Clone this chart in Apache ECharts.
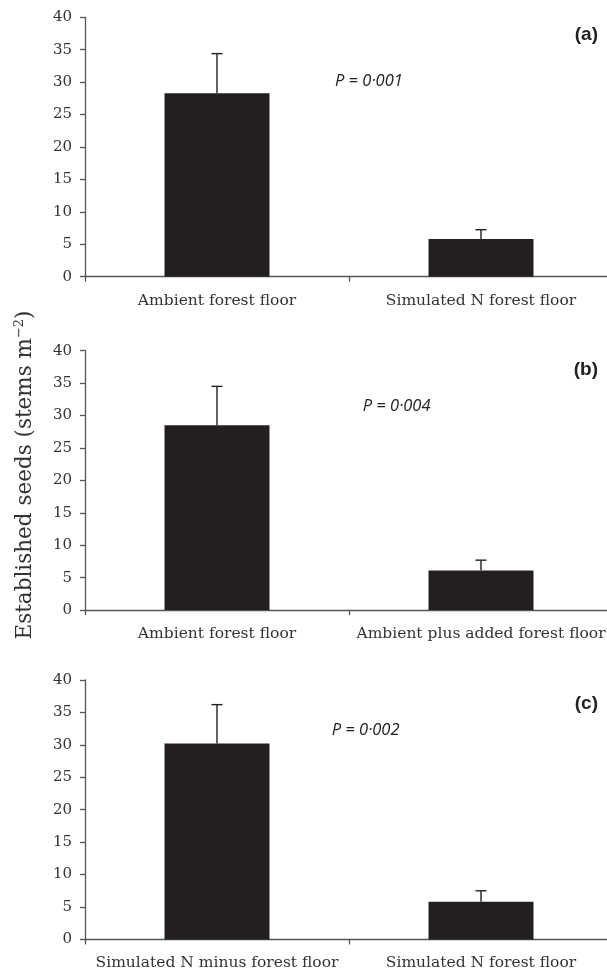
<!DOCTYPE html>
<html>
<head>
<meta charset="utf-8">
<script src="https://cdn.jsdelivr.net/npm/echarts@6/dist/echarts.min.js"></script>
<style>
html,body{margin:0;padding:0;background:#fff;overflow:hidden;width:607px;height:968px;}
#chart{width:613px;height:968px;}
</style>
</head>
<body>
<div id="chart"></div>
<script>
// ---- data ----
const catsA = ['Ambient forest floor', 'Simulated N forest floor'];
const valsA = [28.3, 5.8];
const seA = [6.1, 1.45];

const catsB = ['Ambient forest floor', 'Ambient plus added forest floor'];
const valsB = [28.5, 6.1];
const seB = [6.0, 1.6];

const catsC = ['Simulated N minus forest floor', 'Simulated N forest floor'];
const valsC = [30.2, 5.8];
const seC = [6.0, 1.7];

const yTicks = [0, 5, 10, 15, 20, 25, 30, 35, 40];
const panelLabels = ['(a)', '(b)', '(c)'];
const pLabels = ['P = 0·001', 'P = 0·004', 'P = 0·002'];
const yTitle = 'Established seeds (stems m';
const yTitleSup = '−2';

// ---- layout / style ----
const serif = 'DejaVu Serif';
const axisColor = '#555';
const textColor = '#333';
const barColor = '#231f20';
const gridTops = [17.3, 350.7, 680];
const gridH = 259.4;
const pPos = [[335, 81], [362.7, 406], [331.7, 730.7]];
const panelY = [35, 370, 704];

const panels = [
  {cats: catsA, vals: valsA, se: seA},
  {cats: catsB, vals: valsB, se: seB},
  {cats: catsC, vals: valsC, se: seC}
];

const chart = echarts.init(document.getElementById('chart'), null, {renderer: 'canvas', width: 613, height: 968});

const grid = [], xAxis = [], yAxis = [], series = [];
panels.forEach((p, i) => {
  grid.push({left: 85, right: 0, top: gridTops[i], height: gridH, containLabel: false, outerBoundsMode: 'none'});
  xAxis.push({
    type: 'category', gridIndex: i, data: p.cats,
    axisLine: {show: true, lineStyle: {color: axisColor, width: 1.3}},
    axisTick: {show: true, length: 5, lineStyle: {color: axisColor, width: 1.3}},
    axisLabel: {color: textColor, fontFamily: serif, fontSize: 15.5, margin: 16, interval: 0},
    splitLine: {show: false}
  });
  yAxis.push({
    type: 'value', gridIndex: i, min: yTicks[0], max: yTicks[yTicks.length - 1], interval: yTicks[1] - yTicks[0],
    axisLine: {show: true, lineStyle: {color: axisColor, width: 1.3}},
    axisTick: {show: true, length: 5, lineStyle: {color: axisColor, width: 1.3}},
    axisLabel: {color: textColor, fontFamily: serif, fontSize: 15, margin: 13},
    splitLine: {show: false}
  });
  series.push({
    type: 'bar', xAxisIndex: i, yAxisIndex: i, data: p.vals, barWidth: 105,
    itemStyle: {color: barColor}, silent: true, animation: false
  });
  series.push({
    type: 'custom', xAxisIndex: i, yAxisIndex: i,
    data: p.vals.map((v, k) => [k, v, v + p.se[k]]),
    animation: false, silent: true, z: 5,
    renderItem: function (params, api) {
      const base = api.coord([api.value(0), api.value(1)]);
      const top = api.coord([api.value(0), api.value(2)]);
      const capHalf = 5.5;
      const style = {stroke: barColor, lineWidth: 1.4};
      return {
        type: 'group',
        children: [
          {type: 'line', shape: {x1: base[0], y1: base[1], x2: top[0], y2: top[1]}, style: style},
          {type: 'line', shape: {x1: top[0] - capHalf, y1: top[1], x2: top[0] + capHalf, y2: top[1]}, style: style}
        ]
      };
    }
  });
});

const graphic = [];
panelLabels.forEach((t, i) => {
  graphic.push({
    type: 'text', x: 598, y: panelY[i],
    style: {text: t, font: 'bold 19px "Liberation Sans", Arial, sans-serif', fill: '#222', align: 'right', verticalAlign: 'middle'}
  });
  graphic.push({
    type: 'text', x: pPos[i][0], y: pPos[i][1],
    style: {text: pLabels[i], font: 'italic 16.5px "Open Sans", sans-serif', fill: '#222', align: 'left', verticalAlign: 'middle'}
  });
});
graphic.push({
  type: 'text', x: 25, y: 475, rotation: Math.PI / 2,
  style: {
    text: yTitle + '{sup|' + yTitleSup + '})',
    rich: {sup: {fontSize: 13, fontFamily: serif, verticalAlign: 'top', padding: [0, 0, 10, 0], fill: textColor}},
    fontFamily: serif, fontSize: 21.5, fill: textColor,
    align: 'center', verticalAlign: 'middle'
  }
});

chart.setOption({
  animation: false,
  backgroundColor: '#fff',
  grid: grid, xAxis: xAxis, yAxis: yAxis, series: series,
  graphic: graphic
});
</script>
</body>
</html>
